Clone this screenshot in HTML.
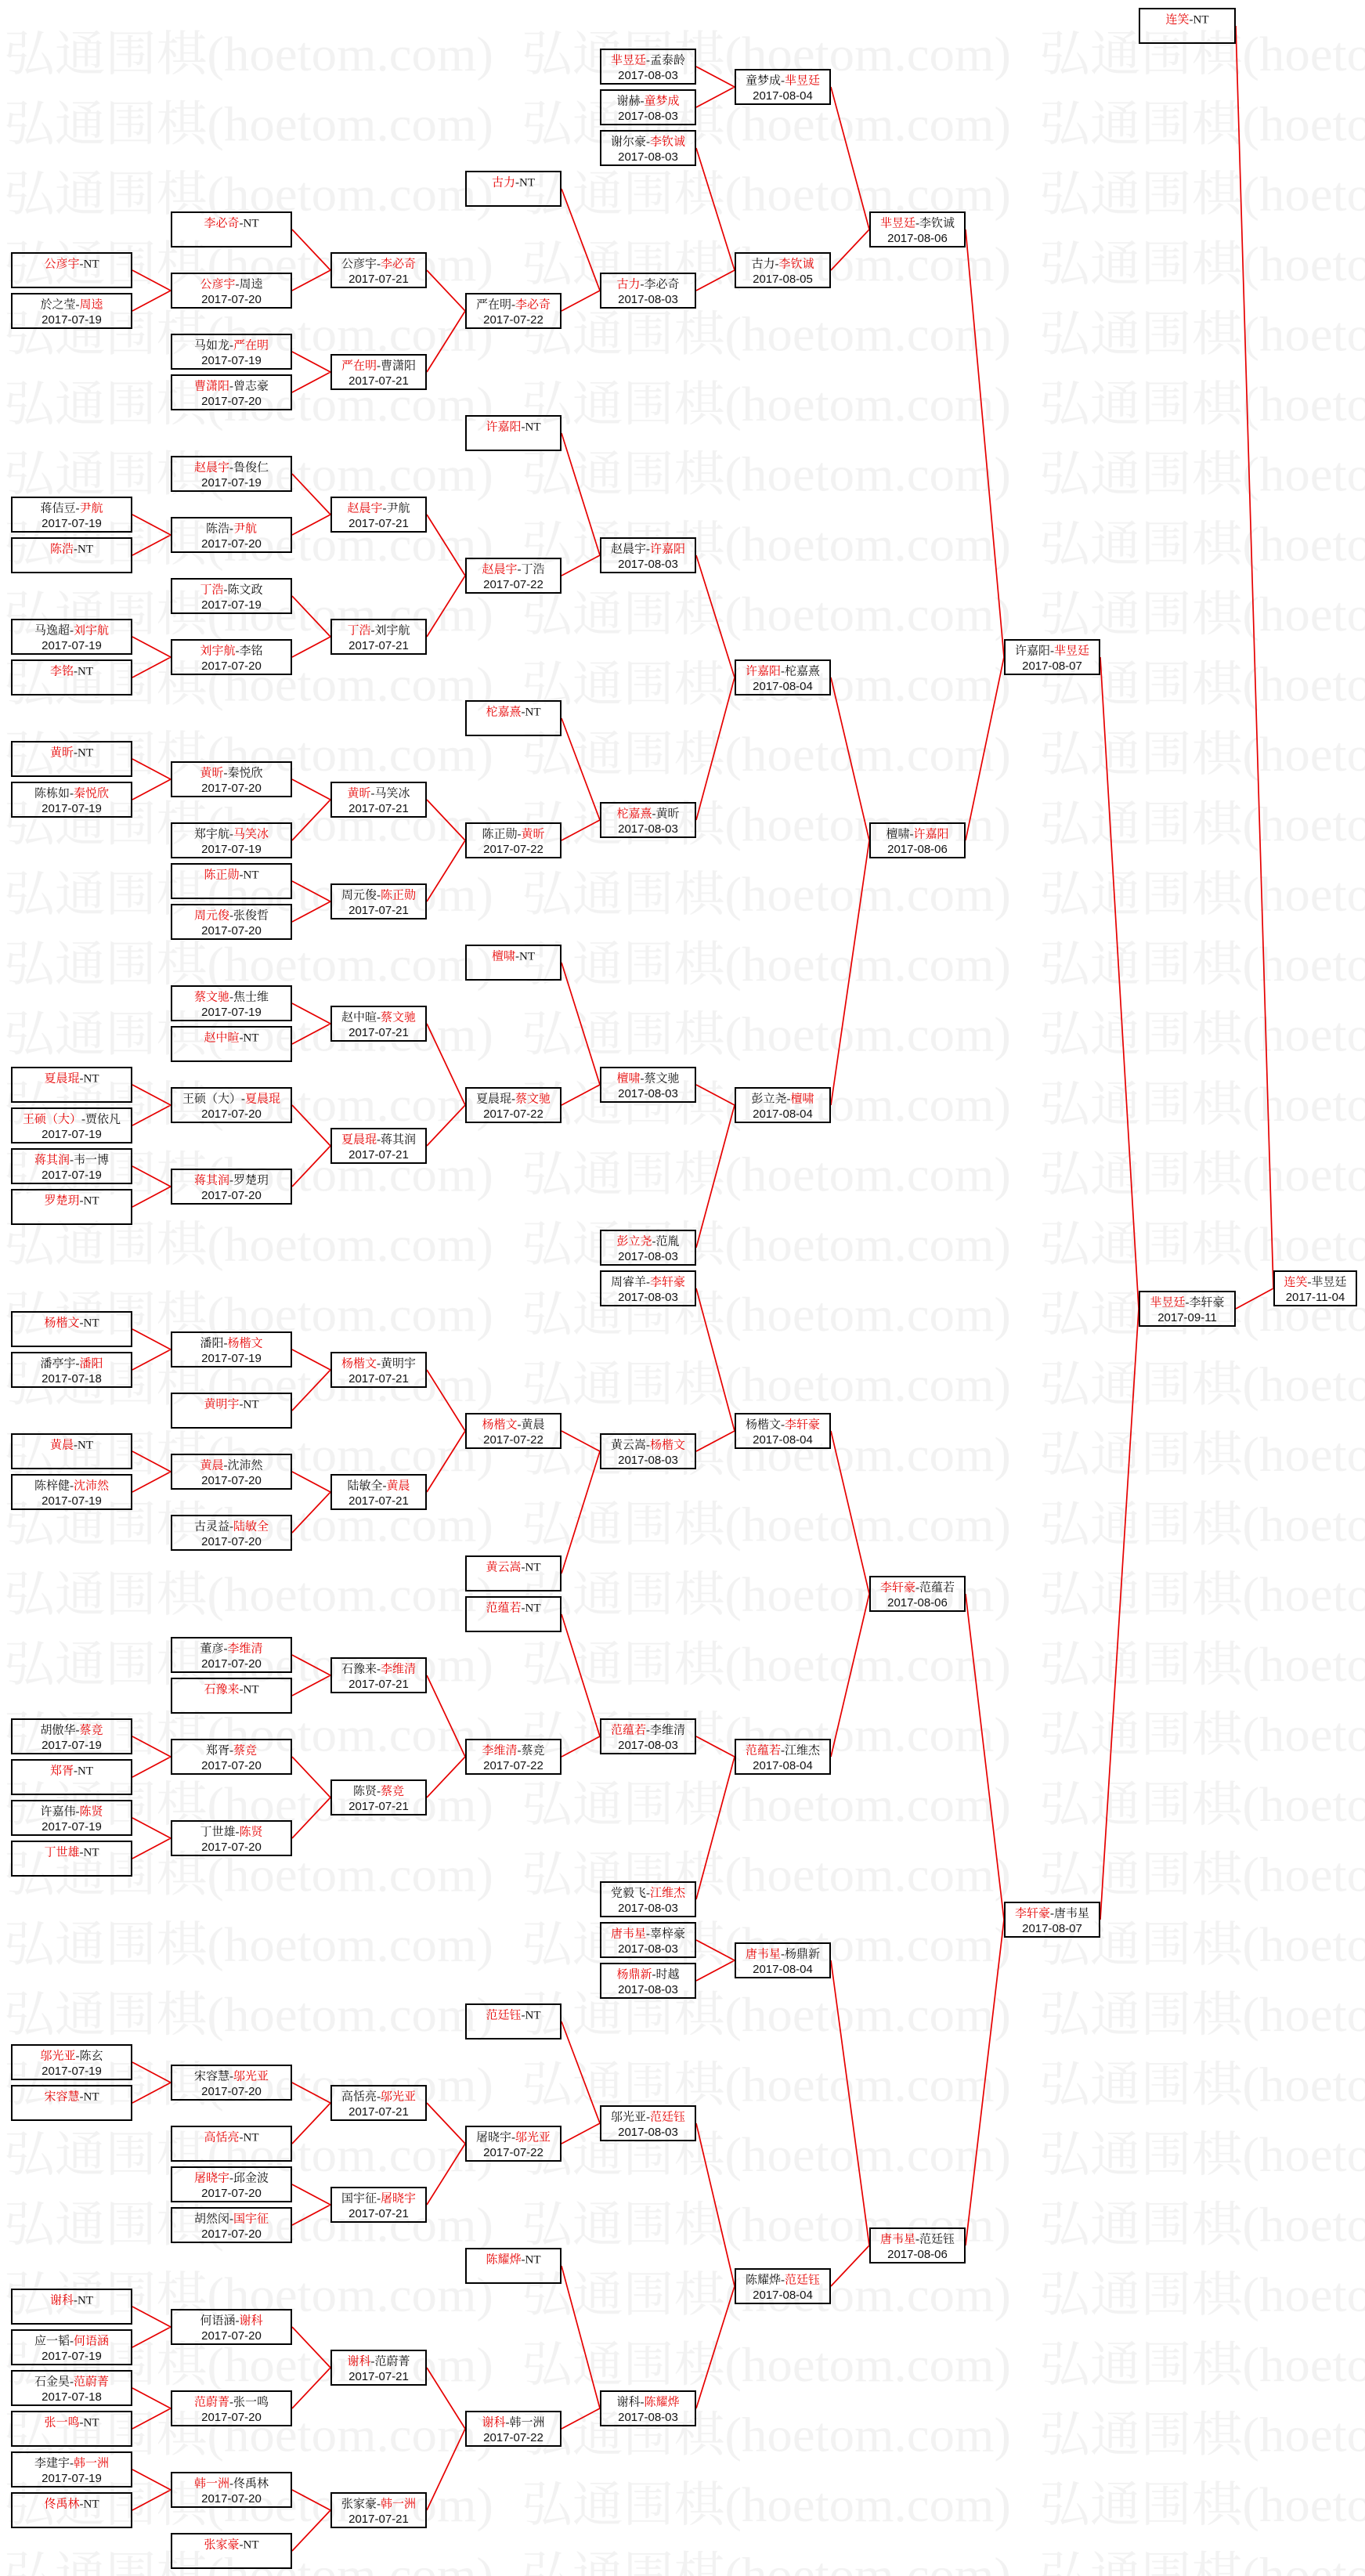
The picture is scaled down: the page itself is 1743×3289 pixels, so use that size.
<!DOCTYPE html>
<html><head><meta charset="utf-8">
<style>
html,body{margin:0;padding:0;background:#fff;}
svg{display:block;}
.bx rect{fill:none;stroke:#000;stroke-width:2;}
.bx text{font-family:"Liberation Serif","Noto Serif CJK SC",serif;font-size:15px;text-anchor:middle;fill:#111;}
.bx text.d{font-family:"Liberation Sans",sans-serif;font-size:15px;}
.r{fill:#e60000;}
.wm{font-family:"Liberation Serif","Noto Serif CJK SC",serif;font-size:62px;fill:#f2f2f2;}
.ln{fill:none;stroke:#e60000;stroke-width:1.7;}
</style></head><body>
<svg xmlns="http://www.w3.org/2000/svg" width="1743" height="3289" viewBox="0 0 1743 3289">
<defs>
<pattern id="wm" patternUnits="userSpaceOnUse" x="5" y="35" width="661" height="89.4">
<text class="wm" x="0" y="55" textLength="625" lengthAdjust="spacingAndGlyphs">弘通围棋(hoetom.com)</text>
</pattern>
</defs>
<rect x="0" y="0" width="1743" height="3289" fill="#fff"/>
<rect x="0" y="35" width="1743" height="3254" fill="url(#wm)"/>

<path class="ln" d="
M169 345L218 371M169 397L218 371
M169 657L218 683M169 709L218 683
M169 813L218 839M169 865L218 839
M169 969L218 995M169 1021L218 995
M169 1385L218 1411M169 1437L218 1411
M169 1489L218 1515M169 1541L218 1515
M169 1697L218 1723M169 1749L218 1723
M169 1853L218 1879M169 1905L218 1879
M169 2217L218 2243M169 2269L218 2243
M169 2321L218 2347M169 2373L218 2347
M169 2633L218 2659M169 2685L218 2659
M169 2945L218 2971M169 2997L218 2971
M169 3049L218 3075M169 3101L218 3075
M169 3153L218 3179M169 3205L218 3179
M373 293L422 345M373 371L422 345
M373 449L422 475M373 501L422 475
M373 605L422 657M373 683L422 657
M373 761L422 813M373 839L422 813
M373 995L422 1021M373 1073L422 1021
M373 1125L422 1151M373 1177L422 1151
M373 1281L422 1307M373 1333L422 1307
M373 1411L422 1463M373 1515L422 1463
M373 1723L422 1749M373 1801L422 1749
M373 1879L422 1905M373 1957L422 1905
M373 2113L422 2139M373 2165L422 2139
M373 2243L422 2295M373 2347L422 2295
M373 2659L422 2685M373 2737L422 2685
M373 2789L422 2815M373 2841L422 2815
M373 2971L422 3023M373 3075L422 3023
M373 3179L422 3205M373 3257L422 3205
M545 345L594 397M545 475L594 397
M545 657L594 735M545 813L594 735
M545 1021L594 1073M545 1151L594 1073
M545 1307L594 1411M545 1463L594 1411
M545 1749L594 1827M545 1905L594 1827
M545 2139L594 2243M545 2295L594 2243
M545 2685L594 2737M545 2815L594 2737
M545 3023L594 3101M545 3205L594 3101
M717 241L766 371M717 397L766 371
M717 553L766 709M717 735L766 709
M717 917L766 1047M717 1073L766 1047
M717 1229L766 1385M717 1411L766 1385
M717 1827L766 1853M717 2009L766 1853
M717 2061L766 2217M717 2243L766 2217
M717 2581L766 2711M717 2737L766 2711
M717 2893L766 3075M717 3101L766 3075
M889 85L938 111M889 137L938 111
M889 189L938 345M889 371L938 345
M889 709L938 865M889 1047L938 865
M889 1385L938 1411M889 1593L938 1411
M889 1645L938 1827M889 1853L938 1827
M889 2217L938 2243M889 2425L938 2243
M889 2477L938 2503M889 2529L938 2503
M889 2711L938 2919M889 3075L938 2919
M1061 111L1110 293M1061 345L1110 293
M1061 865L1110 1073M1061 1411L1110 1073
M1061 1827L1110 2035M1061 2243L1110 2035
M1061 2503L1110 2867M1061 2919L1110 2867
M1233 293L1282 839M1233 1073L1282 839
M1233 2035L1282 2451M1233 2867L1282 2451
M1405 839L1454 1671M1405 2451L1454 1671
M1578 33L1626 1645M1578 1671L1626 1645
"/>

<!-- column 1 -->
<g class="bx">
<g transform="translate(14,322)"><rect x="1" y="1" width="153" height="44"/><text x="77.5" y="19.5"><tspan class="r">公彦宇</tspan>-NT</text></g>
<g transform="translate(14,374)"><rect x="1" y="1" width="153" height="44"/><text x="77.5" y="19.5">於之莹-<tspan class="r">周逵</tspan></text><text class="d" x="77.5" y="39">2017-07-19</text></g>
<g transform="translate(14,634)"><rect x="1" y="1" width="153" height="44"/><text x="77.5" y="19.5">蒋佶豆-<tspan class="r">尹航</tspan></text><text class="d" x="77.5" y="39">2017-07-19</text></g>
<g transform="translate(14,686)"><rect x="1" y="1" width="153" height="44"/><text x="77.5" y="19.5"><tspan class="r">陈浩</tspan>-NT</text></g>
<g transform="translate(14,790)"><rect x="1" y="1" width="153" height="44"/><text x="77.5" y="19.5">马逸超-<tspan class="r">刘宇航</tspan></text><text class="d" x="77.5" y="39">2017-07-19</text></g>
<g transform="translate(14,842)"><rect x="1" y="1" width="153" height="44"/><text x="77.5" y="19.5"><tspan class="r">李铭</tspan>-NT</text></g>
<g transform="translate(14,946)"><rect x="1" y="1" width="153" height="44"/><text x="77.5" y="19.5"><tspan class="r">黄昕</tspan>-NT</text></g>
<g transform="translate(14,998)"><rect x="1" y="1" width="153" height="44"/><text x="77.5" y="19.5">陈栋如-<tspan class="r">秦悦欣</tspan></text><text class="d" x="77.5" y="39">2017-07-19</text></g>
<g transform="translate(14,1362)"><rect x="1" y="1" width="153" height="44"/><text x="77.5" y="19.5"><tspan class="r">夏晨琨</tspan>-NT</text></g>
<g transform="translate(14,1414)"><rect x="1" y="1" width="153" height="44"/><text x="77.5" y="19.5"><tspan class="r">王硕（大）</tspan>-贾依凡</text><text class="d" x="77.5" y="39">2017-07-19</text></g>
<g transform="translate(14,1466)"><rect x="1" y="1" width="153" height="44"/><text x="77.5" y="19.5"><tspan class="r">蒋其润</tspan>-韦一博</text><text class="d" x="77.5" y="39">2017-07-19</text></g>
<g transform="translate(14,1518)"><rect x="1" y="1" width="153" height="44"/><text x="77.5" y="19.5"><tspan class="r">罗楚玥</tspan>-NT</text></g>
<g transform="translate(14,1674)"><rect x="1" y="1" width="153" height="44"/><text x="77.5" y="19.5"><tspan class="r">杨楷文</tspan>-NT</text></g>
<g transform="translate(14,1726)"><rect x="1" y="1" width="153" height="44"/><text x="77.5" y="19.5">潘亭宇-<tspan class="r">潘阳</tspan></text><text class="d" x="77.5" y="39">2017-07-18</text></g>
<g transform="translate(14,1830)"><rect x="1" y="1" width="153" height="44"/><text x="77.5" y="19.5"><tspan class="r">黄晨</tspan>-NT</text></g>
<g transform="translate(14,1882)"><rect x="1" y="1" width="153" height="44"/><text x="77.5" y="19.5">陈梓健-<tspan class="r">沈沛然</tspan></text><text class="d" x="77.5" y="39">2017-07-19</text></g>
<g transform="translate(14,2194)"><rect x="1" y="1" width="153" height="44"/><text x="77.5" y="19.5">胡傲华-<tspan class="r">蔡竞</tspan></text><text class="d" x="77.5" y="39">2017-07-19</text></g>
<g transform="translate(14,2246)"><rect x="1" y="1" width="153" height="44"/><text x="77.5" y="19.5"><tspan class="r">郑胥</tspan>-NT</text></g>
<g transform="translate(14,2298)"><rect x="1" y="1" width="153" height="44"/><text x="77.5" y="19.5">许嘉伟-<tspan class="r">陈贤</tspan></text><text class="d" x="77.5" y="39">2017-07-19</text></g>
<g transform="translate(14,2350)"><rect x="1" y="1" width="153" height="44"/><text x="77.5" y="19.5"><tspan class="r">丁世雄</tspan>-NT</text></g>
<g transform="translate(14,2610)"><rect x="1" y="1" width="153" height="44"/><text x="77.5" y="19.5"><tspan class="r">邬光亚</tspan>-陈玄</text><text class="d" x="77.5" y="39">2017-07-19</text></g>
<g transform="translate(14,2662)"><rect x="1" y="1" width="153" height="44"/><text x="77.5" y="19.5"><tspan class="r">宋容慧</tspan>-NT</text></g>
<g transform="translate(14,2922)"><rect x="1" y="1" width="153" height="44"/><text x="77.5" y="19.5"><tspan class="r">谢科</tspan>-NT</text></g>
<g transform="translate(14,2974)"><rect x="1" y="1" width="153" height="44"/><text x="77.5" y="19.5">应一韬-<tspan class="r">何语涵</tspan></text><text class="d" x="77.5" y="39">2017-07-19</text></g>
<g transform="translate(14,3026)"><rect x="1" y="1" width="153" height="44"/><text x="77.5" y="19.5">石金昊-<tspan class="r">范蔚菁</tspan></text><text class="d" x="77.5" y="39">2017-07-18</text></g>
<g transform="translate(14,3078)"><rect x="1" y="1" width="153" height="44"/><text x="77.5" y="19.5"><tspan class="r">张一鸣</tspan>-NT</text></g>
<g transform="translate(14,3130)"><rect x="1" y="1" width="153" height="44"/><text x="77.5" y="19.5">李建宇-<tspan class="r">韩一洲</tspan></text><text class="d" x="77.5" y="39">2017-07-19</text></g>
<g transform="translate(14,3182)"><rect x="1" y="1" width="153" height="44"/><text x="77.5" y="19.5"><tspan class="r">佟禹林</tspan>-NT</text></g>
</g>

<!-- column 2 -->
<g class="bx">
<g transform="translate(218,270)"><rect x="1" y="1" width="153" height="44"/><text x="77.5" y="19.5"><tspan class="r">李必奇</tspan>-NT</text></g>
<g transform="translate(218,348)"><rect x="1" y="1" width="153" height="44"/><text x="77.5" y="19.5"><tspan class="r">公彦宇</tspan>-周逵</text><text class="d" x="77.5" y="39">2017-07-20</text></g>
<g transform="translate(218,426)"><rect x="1" y="1" width="153" height="44"/><text x="77.5" y="19.5">马如龙-<tspan class="r">严在明</tspan></text><text class="d" x="77.5" y="39">2017-07-19</text></g>
<g transform="translate(218,478)"><rect x="1" y="1" width="153" height="44"/><text x="77.5" y="19.5"><tspan class="r">曹潇阳</tspan>-曾志豪</text><text class="d" x="77.5" y="39">2017-07-20</text></g>
<g transform="translate(218,582)"><rect x="1" y="1" width="153" height="44"/><text x="77.5" y="19.5"><tspan class="r">赵晨宇</tspan>-鲁俊仁</text><text class="d" x="77.5" y="39">2017-07-19</text></g>
<g transform="translate(218,660)"><rect x="1" y="1" width="153" height="44"/><text x="77.5" y="19.5">陈浩-<tspan class="r">尹航</tspan></text><text class="d" x="77.5" y="39">2017-07-20</text></g>
<g transform="translate(218,738)"><rect x="1" y="1" width="153" height="44"/><text x="77.5" y="19.5"><tspan class="r">丁浩</tspan>-陈文政</text><text class="d" x="77.5" y="39">2017-07-19</text></g>
<g transform="translate(218,816)"><rect x="1" y="1" width="153" height="44"/><text x="77.5" y="19.5"><tspan class="r">刘宇航</tspan>-李铭</text><text class="d" x="77.5" y="39">2017-07-20</text></g>
<g transform="translate(218,972)"><rect x="1" y="1" width="153" height="44"/><text x="77.5" y="19.5"><tspan class="r">黄昕</tspan>-秦悦欣</text><text class="d" x="77.5" y="39">2017-07-20</text></g>
<g transform="translate(218,1050)"><rect x="1" y="1" width="153" height="44"/><text x="77.5" y="19.5">郑宇航-<tspan class="r">马笑冰</tspan></text><text class="d" x="77.5" y="39">2017-07-19</text></g>
<g transform="translate(218,1102)"><rect x="1" y="1" width="153" height="44"/><text x="77.5" y="19.5"><tspan class="r">陈正勋</tspan>-NT</text></g>
<g transform="translate(218,1154)"><rect x="1" y="1" width="153" height="44"/><text x="77.5" y="19.5"><tspan class="r">周元俊</tspan>-张俊哲</text><text class="d" x="77.5" y="39">2017-07-20</text></g>
<g transform="translate(218,1258)"><rect x="1" y="1" width="153" height="44"/><text x="77.5" y="19.5"><tspan class="r">蔡文驰</tspan>-焦士维</text><text class="d" x="77.5" y="39">2017-07-19</text></g>
<g transform="translate(218,1310)"><rect x="1" y="1" width="153" height="44"/><text x="77.5" y="19.5"><tspan class="r">赵中暄</tspan>-NT</text></g>
<g transform="translate(218,1388)"><rect x="1" y="1" width="153" height="44"/><text x="77.5" y="19.5">王硕（大）-<tspan class="r">夏晨琨</tspan></text><text class="d" x="77.5" y="39">2017-07-20</text></g>
<g transform="translate(218,1492)"><rect x="1" y="1" width="153" height="44"/><text x="77.5" y="19.5"><tspan class="r">蒋其润</tspan>-罗楚玥</text><text class="d" x="77.5" y="39">2017-07-20</text></g>
<g transform="translate(218,1700)"><rect x="1" y="1" width="153" height="44"/><text x="77.5" y="19.5">潘阳-<tspan class="r">杨楷文</tspan></text><text class="d" x="77.5" y="39">2017-07-19</text></g>
<g transform="translate(218,1778)"><rect x="1" y="1" width="153" height="44"/><text x="77.5" y="19.5"><tspan class="r">黄明宇</tspan>-NT</text></g>
<g transform="translate(218,1856)"><rect x="1" y="1" width="153" height="44"/><text x="77.5" y="19.5"><tspan class="r">黄晨</tspan>-沈沛然</text><text class="d" x="77.5" y="39">2017-07-20</text></g>
<g transform="translate(218,1934)"><rect x="1" y="1" width="153" height="44"/><text x="77.5" y="19.5">古灵益-<tspan class="r">陆敏全</tspan></text><text class="d" x="77.5" y="39">2017-07-20</text></g>
<g transform="translate(218,2090)"><rect x="1" y="1" width="153" height="44"/><text x="77.5" y="19.5">董彦-<tspan class="r">李维清</tspan></text><text class="d" x="77.5" y="39">2017-07-20</text></g>
<g transform="translate(218,2142)"><rect x="1" y="1" width="153" height="44"/><text x="77.5" y="19.5"><tspan class="r">石豫来</tspan>-NT</text></g>
<g transform="translate(218,2220)"><rect x="1" y="1" width="153" height="44"/><text x="77.5" y="19.5">郑胥-<tspan class="r">蔡竞</tspan></text><text class="d" x="77.5" y="39">2017-07-20</text></g>
<g transform="translate(218,2324)"><rect x="1" y="1" width="153" height="44"/><text x="77.5" y="19.5">丁世雄-<tspan class="r">陈贤</tspan></text><text class="d" x="77.5" y="39">2017-07-20</text></g>
<g transform="translate(218,2636)"><rect x="1" y="1" width="153" height="44"/><text x="77.5" y="19.5">宋容慧-<tspan class="r">邬光亚</tspan></text><text class="d" x="77.5" y="39">2017-07-20</text></g>
<g transform="translate(218,2714)"><rect x="1" y="1" width="153" height="44"/><text x="77.5" y="19.5"><tspan class="r">高恬亮</tspan>-NT</text></g>
<g transform="translate(218,2766)"><rect x="1" y="1" width="153" height="44"/><text x="77.5" y="19.5"><tspan class="r">屠晓宇</tspan>-邱金波</text><text class="d" x="77.5" y="39">2017-07-20</text></g>
<g transform="translate(218,2818)"><rect x="1" y="1" width="153" height="44"/><text x="77.5" y="19.5">胡然闵-<tspan class="r">国宇征</tspan></text><text class="d" x="77.5" y="39">2017-07-20</text></g>
<g transform="translate(218,2948)"><rect x="1" y="1" width="153" height="44"/><text x="77.5" y="19.5">何语涵-<tspan class="r">谢科</tspan></text><text class="d" x="77.5" y="39">2017-07-20</text></g>
<g transform="translate(218,3052)"><rect x="1" y="1" width="153" height="44"/><text x="77.5" y="19.5"><tspan class="r">范蔚菁</tspan>-张一鸣</text><text class="d" x="77.5" y="39">2017-07-20</text></g>
<g transform="translate(218,3156)"><rect x="1" y="1" width="153" height="44"/><text x="77.5" y="19.5"><tspan class="r">韩一洲</tspan>-佟禹林</text><text class="d" x="77.5" y="39">2017-07-20</text></g>
<g transform="translate(218,3234)"><rect x="1" y="1" width="153" height="44"/><text x="77.5" y="19.5"><tspan class="r">张家豪</tspan>-NT</text></g>
</g>

<!-- column 3 -->
<g class="bx">
<g transform="translate(422,322)"><rect x="1" y="1" width="121" height="44"/><text x="61.5" y="19.5">公彦宇-<tspan class="r">李必奇</tspan></text><text class="d" x="61.5" y="39">2017-07-21</text></g>
<g transform="translate(422,452)"><rect x="1" y="1" width="121" height="44"/><text x="61.5" y="19.5"><tspan class="r">严在明</tspan>-曹潇阳</text><text class="d" x="61.5" y="39">2017-07-21</text></g>
<g transform="translate(422,634)"><rect x="1" y="1" width="121" height="44"/><text x="61.5" y="19.5"><tspan class="r">赵晨宇</tspan>-尹航</text><text class="d" x="61.5" y="39">2017-07-21</text></g>
<g transform="translate(422,790)"><rect x="1" y="1" width="121" height="44"/><text x="61.5" y="19.5"><tspan class="r">丁浩</tspan>-刘宇航</text><text class="d" x="61.5" y="39">2017-07-21</text></g>
<g transform="translate(422,998)"><rect x="1" y="1" width="121" height="44"/><text x="61.5" y="19.5"><tspan class="r">黄昕</tspan>-马笑冰</text><text class="d" x="61.5" y="39">2017-07-21</text></g>
<g transform="translate(422,1128)"><rect x="1" y="1" width="121" height="44"/><text x="61.5" y="19.5">周元俊-<tspan class="r">陈正勋</tspan></text><text class="d" x="61.5" y="39">2017-07-21</text></g>
<g transform="translate(422,1284)"><rect x="1" y="1" width="121" height="44"/><text x="61.5" y="19.5">赵中暄-<tspan class="r">蔡文驰</tspan></text><text class="d" x="61.5" y="39">2017-07-21</text></g>
<g transform="translate(422,1440)"><rect x="1" y="1" width="121" height="44"/><text x="61.5" y="19.5"><tspan class="r">夏晨琨</tspan>-蒋其润</text><text class="d" x="61.5" y="39">2017-07-21</text></g>
<g transform="translate(422,1726)"><rect x="1" y="1" width="121" height="44"/><text x="61.5" y="19.5"><tspan class="r">杨楷文</tspan>-黄明宇</text><text class="d" x="61.5" y="39">2017-07-21</text></g>
<g transform="translate(422,1882)"><rect x="1" y="1" width="121" height="44"/><text x="61.5" y="19.5">陆敏全-<tspan class="r">黄晨</tspan></text><text class="d" x="61.5" y="39">2017-07-21</text></g>
<g transform="translate(422,2116)"><rect x="1" y="1" width="121" height="44"/><text x="61.5" y="19.5">石豫来-<tspan class="r">李维清</tspan></text><text class="d" x="61.5" y="39">2017-07-21</text></g>
<g transform="translate(422,2272)"><rect x="1" y="1" width="121" height="44"/><text x="61.5" y="19.5">陈贤-<tspan class="r">蔡竞</tspan></text><text class="d" x="61.5" y="39">2017-07-21</text></g>
<g transform="translate(422,2662)"><rect x="1" y="1" width="121" height="44"/><text x="61.5" y="19.5">高恬亮-<tspan class="r">邬光亚</tspan></text><text class="d" x="61.5" y="39">2017-07-21</text></g>
<g transform="translate(422,2792)"><rect x="1" y="1" width="121" height="44"/><text x="61.5" y="19.5">国宇征-<tspan class="r">屠晓宇</tspan></text><text class="d" x="61.5" y="39">2017-07-21</text></g>
<g transform="translate(422,3000)"><rect x="1" y="1" width="121" height="44"/><text x="61.5" y="19.5"><tspan class="r">谢科</tspan>-范蔚菁</text><text class="d" x="61.5" y="39">2017-07-21</text></g>
<g transform="translate(422,3182)"><rect x="1" y="1" width="121" height="44"/><text x="61.5" y="19.5">张家豪-<tspan class="r">韩一洲</tspan></text><text class="d" x="61.5" y="39">2017-07-21</text></g>
</g>

<!-- column 4 -->
<g class="bx">
<g transform="translate(594,218)"><rect x="1" y="1" width="121" height="44"/><text x="61.5" y="19.5"><tspan class="r">古力</tspan>-NT</text></g>
<g transform="translate(594,374)"><rect x="1" y="1" width="121" height="44"/><text x="61.5" y="19.5">严在明-<tspan class="r">李必奇</tspan></text><text class="d" x="61.5" y="39">2017-07-22</text></g>
<g transform="translate(594,530)"><rect x="1" y="1" width="121" height="44"/><text x="61.5" y="19.5"><tspan class="r">许嘉阳</tspan>-NT</text></g>
<g transform="translate(594,712)"><rect x="1" y="1" width="121" height="44"/><text x="61.5" y="19.5"><tspan class="r">赵晨宇</tspan>-丁浩</text><text class="d" x="61.5" y="39">2017-07-22</text></g>
<g transform="translate(594,894)"><rect x="1" y="1" width="121" height="44"/><text x="61.5" y="19.5"><tspan class="r">柁嘉熹</tspan>-NT</text></g>
<g transform="translate(594,1050)"><rect x="1" y="1" width="121" height="44"/><text x="61.5" y="19.5">陈正勋-<tspan class="r">黄昕</tspan></text><text class="d" x="61.5" y="39">2017-07-22</text></g>
<g transform="translate(594,1206)"><rect x="1" y="1" width="121" height="44"/><text x="61.5" y="19.5"><tspan class="r">檀啸</tspan>-NT</text></g>
<g transform="translate(594,1388)"><rect x="1" y="1" width="121" height="44"/><text x="61.5" y="19.5">夏晨琨-<tspan class="r">蔡文驰</tspan></text><text class="d" x="61.5" y="39">2017-07-22</text></g>
<g transform="translate(594,1804)"><rect x="1" y="1" width="121" height="44"/><text x="61.5" y="19.5"><tspan class="r">杨楷文</tspan>-黄晨</text><text class="d" x="61.5" y="39">2017-07-22</text></g>
<g transform="translate(594,1986)"><rect x="1" y="1" width="121" height="44"/><text x="61.5" y="19.5"><tspan class="r">黄云嵩</tspan>-NT</text></g>
<g transform="translate(594,2038)"><rect x="1" y="1" width="121" height="44"/><text x="61.5" y="19.5"><tspan class="r">范蕴若</tspan>-NT</text></g>
<g transform="translate(594,2220)"><rect x="1" y="1" width="121" height="44"/><text x="61.5" y="19.5"><tspan class="r">李维清</tspan>-蔡竞</text><text class="d" x="61.5" y="39">2017-07-22</text></g>
<g transform="translate(594,2558)"><rect x="1" y="1" width="121" height="44"/><text x="61.5" y="19.5"><tspan class="r">范廷钰</tspan>-NT</text></g>
<g transform="translate(594,2714)"><rect x="1" y="1" width="121" height="44"/><text x="61.5" y="19.5">屠晓宇-<tspan class="r">邬光亚</tspan></text><text class="d" x="61.5" y="39">2017-07-22</text></g>
<g transform="translate(594,2870)"><rect x="1" y="1" width="121" height="44"/><text x="61.5" y="19.5"><tspan class="r">陈耀烨</tspan>-NT</text></g>
<g transform="translate(594,3078)"><rect x="1" y="1" width="121" height="44"/><text x="61.5" y="19.5"><tspan class="r">谢科</tspan>-韩一洲</text><text class="d" x="61.5" y="39">2017-07-22</text></g>
</g>

<!-- column 5 -->
<g class="bx">
<g transform="translate(766,62)"><rect x="1" y="1" width="121" height="44"/><text x="61.5" y="19.5"><tspan class="r">芈昱廷</tspan>-孟泰龄</text><text class="d" x="61.5" y="39">2017-08-03</text></g>
<g transform="translate(766,114)"><rect x="1" y="1" width="121" height="44"/><text x="61.5" y="19.5">谢赫-<tspan class="r">童梦成</tspan></text><text class="d" x="61.5" y="39">2017-08-03</text></g>
<g transform="translate(766,166)"><rect x="1" y="1" width="121" height="44"/><text x="61.5" y="19.5">谢尔豪-<tspan class="r">李钦诚</tspan></text><text class="d" x="61.5" y="39">2017-08-03</text></g>
<g transform="translate(766,348)"><rect x="1" y="1" width="121" height="44"/><text x="61.5" y="19.5"><tspan class="r">古力</tspan>-李必奇</text><text class="d" x="61.5" y="39">2017-08-03</text></g>
<g transform="translate(766,686)"><rect x="1" y="1" width="121" height="44"/><text x="61.5" y="19.5">赵晨宇-<tspan class="r">许嘉阳</tspan></text><text class="d" x="61.5" y="39">2017-08-03</text></g>
<g transform="translate(766,1024)"><rect x="1" y="1" width="121" height="44"/><text x="61.5" y="19.5"><tspan class="r">柁嘉熹</tspan>-黄昕</text><text class="d" x="61.5" y="39">2017-08-03</text></g>
<g transform="translate(766,1362)"><rect x="1" y="1" width="121" height="44"/><text x="61.5" y="19.5"><tspan class="r">檀啸</tspan>-蔡文驰</text><text class="d" x="61.5" y="39">2017-08-03</text></g>
<g transform="translate(766,1570)"><rect x="1" y="1" width="121" height="44"/><text x="61.5" y="19.5"><tspan class="r">彭立尧</tspan>-范胤</text><text class="d" x="61.5" y="39">2017-08-03</text></g>
<g transform="translate(766,1622)"><rect x="1" y="1" width="121" height="44"/><text x="61.5" y="19.5">周睿羊-<tspan class="r">李轩豪</tspan></text><text class="d" x="61.5" y="39">2017-08-03</text></g>
<g transform="translate(766,1830)"><rect x="1" y="1" width="121" height="44"/><text x="61.5" y="19.5">黄云嵩-<tspan class="r">杨楷文</tspan></text><text class="d" x="61.5" y="39">2017-08-03</text></g>
<g transform="translate(766,2194)"><rect x="1" y="1" width="121" height="44"/><text x="61.5" y="19.5"><tspan class="r">范蕴若</tspan>-李维清</text><text class="d" x="61.5" y="39">2017-08-03</text></g>
<g transform="translate(766,2402)"><rect x="1" y="1" width="121" height="44"/><text x="61.5" y="19.5">党毅飞-<tspan class="r">江维杰</tspan></text><text class="d" x="61.5" y="39">2017-08-03</text></g>
<g transform="translate(766,2454)"><rect x="1" y="1" width="121" height="44"/><text x="61.5" y="19.5"><tspan class="r">唐韦星</tspan>-辜梓豪</text><text class="d" x="61.5" y="39">2017-08-03</text></g>
<g transform="translate(766,2506)"><rect x="1" y="1" width="121" height="44"/><text x="61.5" y="19.5"><tspan class="r">杨鼎新</tspan>-时越</text><text class="d" x="61.5" y="39">2017-08-03</text></g>
<g transform="translate(766,2688)"><rect x="1" y="1" width="121" height="44"/><text x="61.5" y="19.5">邬光亚-<tspan class="r">范廷钰</tspan></text><text class="d" x="61.5" y="39">2017-08-03</text></g>
<g transform="translate(766,3052)"><rect x="1" y="1" width="121" height="44"/><text x="61.5" y="19.5">谢科-<tspan class="r">陈耀烨</tspan></text><text class="d" x="61.5" y="39">2017-08-03</text></g>
</g>

<!-- column 6 -->
<g class="bx">
<g transform="translate(938,88)"><rect x="1" y="1" width="121" height="44"/><text x="61.5" y="19.5">童梦成-<tspan class="r">芈昱廷</tspan></text><text class="d" x="61.5" y="39">2017-08-04</text></g>
<g transform="translate(938,322)"><rect x="1" y="1" width="121" height="44"/><text x="61.5" y="19.5">古力-<tspan class="r">李钦诚</tspan></text><text class="d" x="61.5" y="39">2017-08-05</text></g>
<g transform="translate(938,842)"><rect x="1" y="1" width="121" height="44"/><text x="61.5" y="19.5"><tspan class="r">许嘉阳</tspan>-柁嘉熹</text><text class="d" x="61.5" y="39">2017-08-04</text></g>
<g transform="translate(938,1388)"><rect x="1" y="1" width="121" height="44"/><text x="61.5" y="19.5">彭立尧-<tspan class="r">檀啸</tspan></text><text class="d" x="61.5" y="39">2017-08-04</text></g>
<g transform="translate(938,1804)"><rect x="1" y="1" width="121" height="44"/><text x="61.5" y="19.5">杨楷文-<tspan class="r">李轩豪</tspan></text><text class="d" x="61.5" y="39">2017-08-04</text></g>
<g transform="translate(938,2220)"><rect x="1" y="1" width="121" height="44"/><text x="61.5" y="19.5"><tspan class="r">范蕴若</tspan>-江维杰</text><text class="d" x="61.5" y="39">2017-08-04</text></g>
<g transform="translate(938,2480)"><rect x="1" y="1" width="121" height="44"/><text x="61.5" y="19.5"><tspan class="r">唐韦星</tspan>-杨鼎新</text><text class="d" x="61.5" y="39">2017-08-04</text></g>
<g transform="translate(938,2896)"><rect x="1" y="1" width="121" height="44"/><text x="61.5" y="19.5">陈耀烨-<tspan class="r">范廷钰</tspan></text><text class="d" x="61.5" y="39">2017-08-04</text></g>
</g>

<!-- column 7 -->
<g class="bx">
<g transform="translate(1110,270)"><rect x="1" y="1" width="121" height="44"/><text x="61.5" y="19.5"><tspan class="r">芈昱廷</tspan>-李钦诚</text><text class="d" x="61.5" y="39">2017-08-06</text></g>
<g transform="translate(1110,1050)"><rect x="1" y="1" width="121" height="44"/><text x="61.5" y="19.5">檀啸-<tspan class="r">许嘉阳</tspan></text><text class="d" x="61.5" y="39">2017-08-06</text></g>
<g transform="translate(1110,2012)"><rect x="1" y="1" width="121" height="44"/><text x="61.5" y="19.5"><tspan class="r">李轩豪</tspan>-范蕴若</text><text class="d" x="61.5" y="39">2017-08-06</text></g>
<g transform="translate(1110,2844)"><rect x="1" y="1" width="121" height="44"/><text x="61.5" y="19.5"><tspan class="r">唐韦星</tspan>-范廷钰</text><text class="d" x="61.5" y="39">2017-08-06</text></g>
</g>

<!-- column 8 -->
<g class="bx">
<g transform="translate(1282,816)"><rect x="1" y="1" width="121" height="44"/><text x="61.5" y="19.5">许嘉阳-<tspan class="r">芈昱廷</tspan></text><text class="d" x="61.5" y="39">2017-08-07</text></g>
<g transform="translate(1282,2428)"><rect x="1" y="1" width="121" height="44"/><text x="61.5" y="19.5"><tspan class="r">李轩豪</tspan>-唐韦星</text><text class="d" x="61.5" y="39">2017-08-07</text></g>
</g>

<!-- column 9 -->
<g class="bx">
<g transform="translate(1454,10)"><rect x="1" y="1" width="122" height="44"/><text x="62" y="19.5"><tspan class="r">连笑</tspan>-NT</text></g>
<g transform="translate(1454,1648)"><rect x="1" y="1" width="122" height="44"/><text x="62" y="19.5"><tspan class="r">芈昱廷</tspan>-李轩豪</text><text class="d" x="62" y="39">2017-09-11</text></g>
</g>

<!-- column 10 -->
<g class="bx">
<g transform="translate(1626,1622)"><rect x="1" y="1" width="105" height="44"/><text x="53.5" y="19.5"><tspan class="r">连笑</tspan>-芈昱廷</text><text class="d" x="53.5" y="39">2017-11-04</text></g>
</g>
</svg>
</body></html>
